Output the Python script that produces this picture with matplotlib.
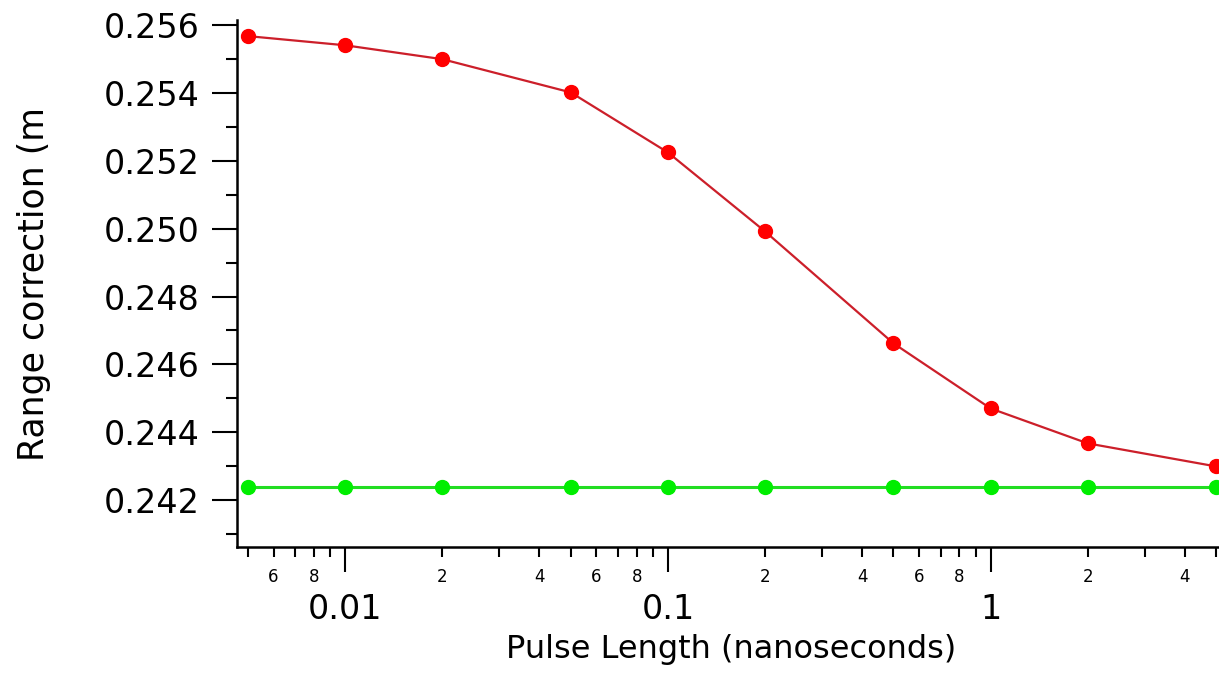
import matplotlib
matplotlib.use("Agg")
import matplotlib.pyplot as plt
from matplotlib.ticker import FixedLocator, FixedFormatter
import numpy as np

# pulse length (ns) and range corrections (m)
pulse_ns = [0.005, 0.01, 0.02, 0.05, 0.1, 0.2, 0.5, 1, 2, 5]
corr_red = [0.25568, 0.25541, 0.25500, 0.25402, 0.25225, 0.24992, 0.24662, 0.24470, 0.24367, 0.24299]
corr_green = [0.24238] * 10

major_x = [0.01, 0.1, 1]
major_x_labels = ['0.01', '0.1', '1']
minor_x = [m * 10.0**e for e in (-3, -2, -1, 0) for m in range(2, 10)]
minor_lab = {0.006: '6', 0.008: '8', 0.02: '2', 0.04: '4', 0.06: '6', 0.08: '8',
             0.2: '2', 0.4: '4', 0.6: '6', 0.8: '8', 2: '2', 4: '4'}

fig = plt.figure(figsize=(12.19, 6.73), dpi=100)
ax = fig.add_axes([0.1944, 0.187, 0.81, 0.783])

ax.plot(pulse_ns, corr_red, color='#cc1f2a', lw=1.6, marker='o', ms=10,
        mfc='#ff0000', mec='#ff0000', zorder=3, clip_on=False)
ax.plot(pulse_ns, corr_green, color='#22dd22', lw=2.2, marker='o', ms=10,
        mfc='#00ee00', mec='#00ee00', zorder=3, clip_on=False)

ax.set_xscale('log')
ax.set_xlim(0.00462, 5.3)
ax.set_ylim(0.24061, 0.25615)

for s in ('top', 'right'):
    ax.spines[s].set_visible(False)
for s in ('left', 'bottom'):
    ax.spines[s].set_linewidth(1.8)

ax.xaxis.set_major_locator(FixedLocator(major_x))
ax.xaxis.set_major_formatter(FixedFormatter(major_x_labels))
ax.xaxis.set_minor_locator(FixedLocator(minor_x))
ax.xaxis.set_minor_formatter(FixedFormatter(
    [minor_lab.get(round(v, 6), '') for v in minor_x]))

ax.set_yticks(np.arange(0.242, 0.2561, 0.002))
ax.set_yticks(np.arange(0.241, 0.2561, 0.002), minor=True)
ax.set_yticklabels(['%.3f' % v for v in np.arange(0.242, 0.2561, 0.002)])

ax.tick_params(axis='x', which='major', direction='out', length=18, width=1.5,
               labelsize=24, pad=15)
ax.tick_params(axis='x', which='minor', direction='out', length=7, width=1.5,
               labelsize=12, pad=8)
ax.tick_params(axis='y', which='major', direction='out', length=18, width=1.5,
               labelsize=24, pad=9)
ax.tick_params(axis='y', which='minor', direction='out', length=8, width=1.5)

ax.set_xlabel('Pulse Length (nanoseconds)', fontsize=23, labelpad=6)
ax.set_ylabel('Range correction (m', fontsize=25)
ax.yaxis.set_label_coords(-0.188, 0.5)

fig.savefig('out.png', dpi=100)
